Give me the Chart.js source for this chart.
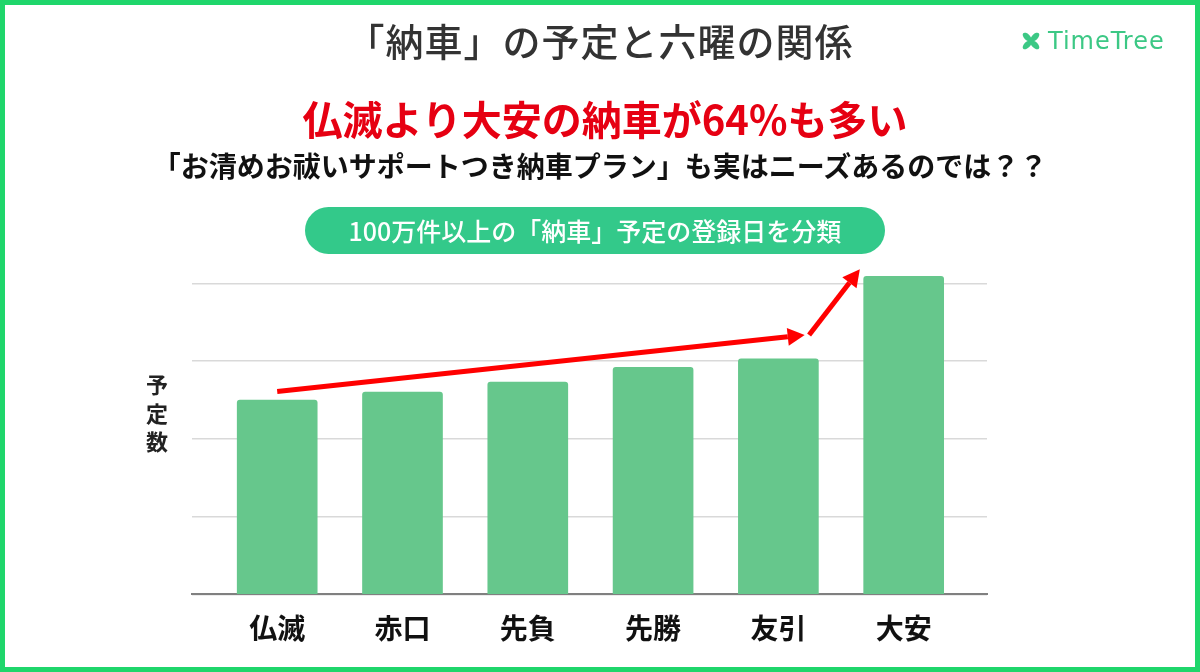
<!DOCTYPE html>
<html lang="ja">
<head>
<meta charset="utf-8">
<script src="https://cdn.jsdelivr.net/npm/chart.js@4.4.1/dist/chart.umd.min.js"></script>
<style>
  html, body { margin: 0; padding: 0; background: #fff; }
  body { font-family: "Noto Sans CJK JP", "Noto Sans", sans-serif; }
  #frame { position: relative; width: 1200px; height: 672px; box-sizing: border-box; border: 5px solid #1fd66b; overflow: hidden; }
  #chart { position: absolute; left: -5px; top: -5px; }
  .t { position: absolute; left: 0; width: 1190px; text-align: center; white-space: nowrap; }
  #title { top: 7px; font-size: 38px; font-weight: 500; color: #333; letter-spacing: 1px; }
  #head { top: 84px; left: 5px; font-size: 40px; font-weight: 700; color: #e60012; }
  #sub { top: 140px; font-size: 28px; font-weight: 700; color: #111; }
  #pill { position: absolute; left: 300px; top: 202px; width: 580px; height: 47px; border-radius: 24px; background: #33c98a; color: #fff; font-size: 25px; font-weight: 500; text-align: center; line-height: 47px; }
  #ylab { position: absolute; left: 137px; top: 364px; width: 30px; font-size: 22px; font-weight: 700; color: #222; line-height: 28.5px; text-align: center; }
  #logo { position: absolute; left: 1015px; top: 22px; display: flex; align-items: center; color: #3cc885; font-family: "DejaVu Sans", sans-serif; font-size: 24px; letter-spacing: 1px; }
  #logo svg { margin-right: 6px; }
</style>
</head>
<body>
<div id="frame">
  <canvas id="chart" width="1200" height="672"></canvas>
  <div class="t" id="title">「納車」の予定と六曜の関係</div>
  <div class="t" id="head">仏滅より大安の納車が64%も多い</div>
  <div class="t" id="sub">「お清めお祓いサポートつき納車プラン」も実はニーズあるのでは？？</div>
  <div id="pill">100万件以上の「納車」予定の登録日を分類</div>
  <div id="ylab">予<br>定<br>数</div>
  <div id="logo">
    <svg width="22" height="22" viewBox="-11 -11 22 22">
      <g fill="#3cc885">
        <ellipse cx="0" cy="-5.5" rx="3" ry="5.5" transform="rotate(45)"/>
        <ellipse cx="0" cy="-5.5" rx="3" ry="5.5" transform="rotate(135)"/>
        <ellipse cx="0" cy="-5.5" rx="3" ry="5.5" transform="rotate(225)"/>
        <ellipse cx="0" cy="-5.5" rx="3" ry="5.5" transform="rotate(315)"/>
      </g>
    </svg>
    <span>TimeTree</span>
  </div>
</div>
<script>
// 六曜ごとの「納車」予定数（目盛りなし・相対値）
const rokuyo = ["仏滅", "赤口", "先負", "先勝", "友引", "大安"];
const counts = [2.50, 2.60, 2.73, 2.92, 3.03, 4.09];
const gridTicks = [0, 1, 2, 3, 4];

// 矢印（x: カテゴリ位置, y: 値）
const arrowFrom = [[0, 2.61], [4.245, 3.335]];
const arrowTo = [[4.21, 3.335], [4.65, 4.18]];

const arrows = {
  id: "arrows",
  afterDatasetsDraw(chart) {
    const { ctx, scales: { x, y } } = chart;
    ctx.save();
    ctx.strokeStyle = "#ff0000";
    ctx.fillStyle = "#ff0000";
    ctx.lineWidth = 5;
    arrowFrom.forEach((f, i) => {
      const x1 = x.getPixelForValue(f[0]), y1 = y.getPixelForValue(f[1]);
      const x2 = x.getPixelForValue(arrowTo[i][0]), y2 = y.getPixelForValue(arrowTo[i][1]);
      const a = Math.atan2(y2 - y1, x2 - x1);
      const len = 17, hw = 9;
      const bx = x2 - len * Math.cos(a), by = y2 - len * Math.sin(a);
      ctx.beginPath();
      ctx.moveTo(x1, y1);
      ctx.lineTo(bx, by);
      ctx.stroke();
      ctx.beginPath();
      ctx.moveTo(x2, y2);
      ctx.lineTo(bx + hw * Math.sin(a), by - hw * Math.cos(a));
      ctx.lineTo(bx - hw * Math.sin(a), by + hw * Math.cos(a));
      ctx.closePath();
      ctx.fill();
    });
    ctx.restore();
  }
};

new Chart(document.getElementById("chart"), {
  type: "bar",
  data: {
    datasets: [{
      data: counts.map((v, i) => ({ x: i, y: v })),
      backgroundColor: "#66c78c",
      barThickness: 80,
      borderRadius: 3,
      borderSkipped: "bottom"
    }]
  },
  options: {
    responsive: false,
    animation: false,
    layout: { padding: { left: 192, right: 213, top: 260, bottom: 10 } },
    plugins: { legend: { display: false }, tooltip: { enabled: false } },
    scales: {
      x: {
        type: "linear",
        offset: false,
        min: -0.68,
        max: 5.665,
        afterBuildTicks: s => { s.ticks = rokuyo.map((c, i) => ({ value: i })); },
        ticks: {
          callback: v => rokuyo[v],
          autoSkip: false,
          maxRotation: 0,
          padding: 17,
          color: "#111",
          font: { family: "Noto Sans CJK JP", size: 28, weight: "bold" }
        },
        grid: { display: false, drawTicks: false, offset: false },
        border: { display: true, color: "#808080", width: 2 }
      },
      y: {
        min: 0,
        max: 4.3,
        afterBuildTicks: s => { s.ticks = gridTicks.map(v => ({ value: v })); },
        ticks: { display: false },
        grid: { color: "#d9d9d9", lineWidth: 1.5, drawTicks: false },
        border: { display: false }
      }
    }
  },
  plugins: [arrows]
});
</script>
</body>
</html>
